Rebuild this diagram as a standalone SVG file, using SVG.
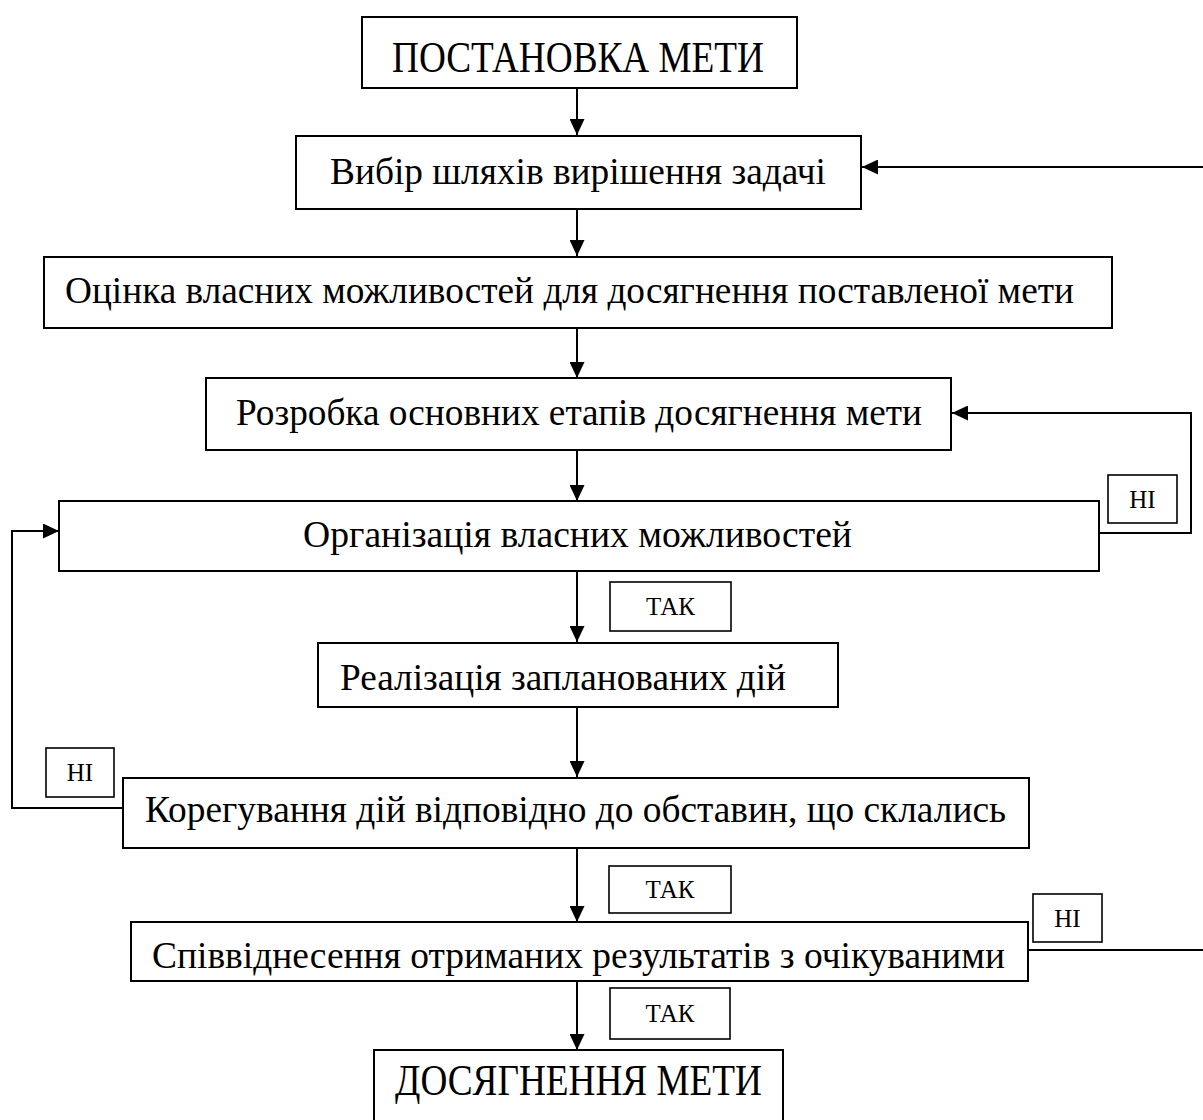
<svg xmlns="http://www.w3.org/2000/svg" width="1203" height="1120" viewBox="0 0 1203 1120">
<style>
.box{fill:#fff;stroke:#000;stroke-width:2}
.lbl{fill:#fff;stroke:#000;stroke-width:1.6}
.t{font-family:"Liberation Serif","Times New Roman",serif;fill:#000;text-anchor:start}
.big{font-size:44px}
.mid{font-size:37px}
.sm{font-size:25px;text-anchor:middle}
.c{fill:none;stroke:#000;stroke-width:2}
</style>
<defs>
<marker id="ah" viewBox="0 0 16 15" refX="16" refY="7.5" markerWidth="16" markerHeight="15" markerUnits="userSpaceOnUse" orient="auto">
<path d="M0,0 L16,7.5 L0,15 Z" fill="#000"/>
</marker>
</defs>
<rect width="1203" height="1120" fill="#fff"/>
<g id="connectors">
<line class="c" x1="577" y1="89" x2="577" y2="135" marker-end="url(#ah)"/>
<line class="c" x1="1203" y1="167" x2="862" y2="167" marker-end="url(#ah)"/>
<line class="c" x1="577" y1="209" x2="577" y2="256" marker-end="url(#ah)"/>
<line class="c" x1="577" y1="328" x2="577" y2="378" marker-end="url(#ah)"/>
<polyline class="c" points="1099,533 1191,533 1191,413 952,413" marker-end="url(#ah)"/>
<line class="c" x1="577" y1="450" x2="577" y2="501" marker-end="url(#ah)"/>
<line class="c" x1="577" y1="571" x2="577" y2="642" marker-end="url(#ah)"/>
<line class="c" x1="577" y1="707" x2="577" y2="777" marker-end="url(#ah)"/>
<polyline class="c" points="123,808 12,808 12,531 59,531" marker-end="url(#ah)"/>
<line class="c" x1="577" y1="848" x2="577" y2="922" marker-end="url(#ah)"/>
<line class="c" x1="1028" y1="950" x2="1203" y2="950"/>
<line class="c" x1="577" y1="981" x2="577" y2="1050" marker-end="url(#ah)"/>
</g>
<g id="n1"><rect class="box" x="362" y="17" width="435" height="71"/><text class="t big" x="392" y="72" textLength="372" lengthAdjust="spacingAndGlyphs">ПОСТАНОВКА МЕТИ</text></g>
<g id="n2"><rect class="box" x="296" y="136" width="565" height="73"/><text class="t mid" x="330" y="184" textLength="496" lengthAdjust="spacingAndGlyphs">Вибір шляхів вирішення задачі</text></g>
<g id="n3"><rect class="box" x="44" y="257" width="1068" height="71"/><text class="t mid" x="65" y="303" textLength="1009" lengthAdjust="spacingAndGlyphs">Оцінка власних можливостей для досягнення поставленої мети</text></g>
<g id="n4"><rect class="box" x="206" y="378" width="745" height="72"/><text class="t mid" x="236" y="425" textLength="686" lengthAdjust="spacingAndGlyphs">Розробка основних етапів досягнення мети</text></g>
<g id="n5"><rect class="box" x="59" y="501" width="1040" height="70"/><text class="t mid" x="303" y="547" textLength="549" lengthAdjust="spacingAndGlyphs">Організація власних можливостей</text></g>
<g id="n6"><rect class="box" x="318" y="643" width="520" height="64"/><text class="t mid" x="340" y="690" textLength="446" lengthAdjust="spacingAndGlyphs">Реалізація запланованих дій</text></g>
<g id="n7"><rect class="box" x="123" y="778" width="906" height="70"/><text class="t mid" x="145" y="822" textLength="861" lengthAdjust="spacingAndGlyphs">Корегування дій відповідно до обставин, що склались</text></g>
<g id="n8"><rect class="box" x="131" y="922" width="897" height="59"/><text class="t mid" x="152" y="968" textLength="853" lengthAdjust="spacingAndGlyphs">Співвіднесення отриманих результатів з очікуваними</text></g>
<g id="n9"><rect class="box" x="374" y="1050" width="409" height="80"/><text class="t big" x="395" y="1095" textLength="367" lengthAdjust="spacingAndGlyphs">ДОСЯГНЕННЯ МЕТИ</text></g>
<g id="l1"><rect class="lbl" x="1108" y="475" width="69" height="48"/><text class="t sm" x="1142.5" y="508">НІ</text></g>
<g id="l2"><rect class="lbl" x="610" y="582" width="121" height="49"/><text class="t sm" x="670.5" y="615">ТАК</text></g>
<g id="l3"><rect class="lbl" x="46" y="748" width="68" height="49"/><text class="t sm" x="80" y="781">НІ</text></g>
<g id="l4"><rect class="lbl" x="609" y="866" width="122" height="47"/><text class="t sm" x="670" y="898">ТАК</text></g>
<g id="l5"><rect class="lbl" x="1033" y="894" width="69" height="48"/><text class="t sm" x="1067.5" y="927">НІ</text></g>
<g id="l6"><rect class="lbl" x="610" y="988" width="120" height="51"/><text class="t sm" x="670" y="1022">ТАК</text></g>
</svg>
